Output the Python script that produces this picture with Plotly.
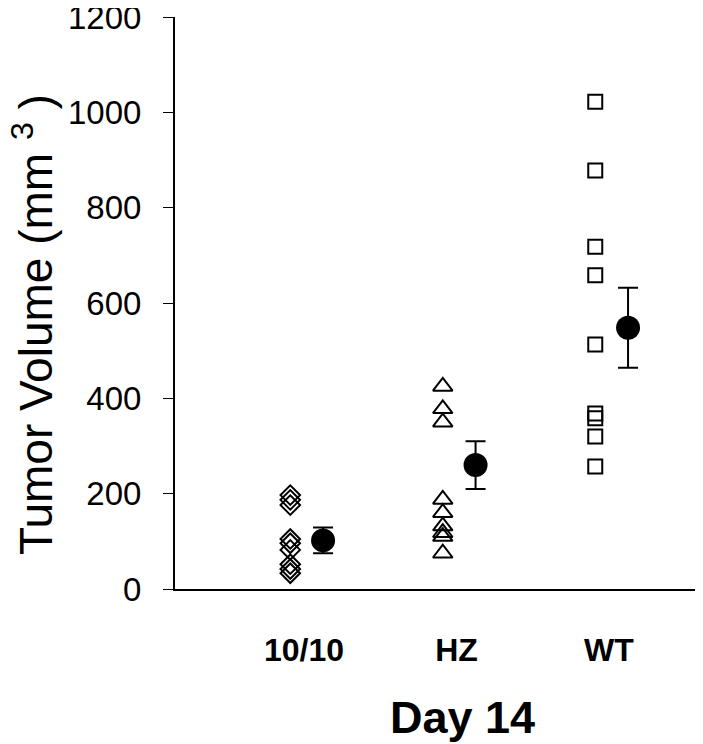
import plotly.graph_objects as go

# Day 14 tumor volumes (mm^3)
groups = ["10/10", "HZ", "WT"]
group_pos = [1, 2, 3]

vol_1010 = [197, 187, 176, 105, 96, 82, 52, 42, 33]
vol_hz = [425, 378, 350, 188, 160, 132, 118, 110, 75]
vol_wt = [1022, 878, 718, 658, 513, 368, 358, 320, 257]

mean_vol = [102, 260, 548]
sem_vol = [27, 50, 84]

y_ticks = [0, 200, 400, 600, 800, 1000, 1200]

FONT = "Arial, Liberation Sans, sans-serif"
pt_shift = -0.09     # individual animals sit left of the label
mean_shift = 0.125   # mean +/- SEM to the right

# the page body adds an 8px offset, so the margins are pulled in by 8px
PX_L, PX_R, PX_T, PX_B = 175, 711, 17, 589   # plot area in screen pixels


def paper_x(px):
    return (px - PX_L) / (PX_R - PX_L)


def paper_y(py):
    return (PX_B - py) / (PX_B - PX_T)


fig = go.Figure()

sets = [
    (vol_1010, "diamond-open", 15),
    (vol_hz, "triangle-up-open", 17),
    (vol_wt, "square-open", 14),
]
for (vals, sym, sz), pos, name in zip(sets, group_pos, groups):
    fig.add_trace(go.Scatter(
        x=[pos + pt_shift] * len(vals), y=vals, mode="markers", name=name,
        marker=dict(symbol=sym, size=sz, color="black", line=dict(width=2)),
    ))

fig.add_trace(go.Scatter(
    x=[p + mean_shift for p in group_pos], y=mean_vol, mode="markers", name="mean",
    marker=dict(symbol="circle", size=24, color="black"),
    error_y=dict(type="data", array=sem_vol, color="black", thickness=2, width=10),
))

fig.update_layout(
    width=703, height=744,
    margin=dict(l=PX_L - 8, r=0, t=PX_T - 8, b=744 - (PX_B - 8)),
    paper_bgcolor="white", plot_bgcolor="white",
    showlegend=False,
    font=dict(family=FONT, color="black"),
)

fig.update_xaxes(
    range=[0.154, 3.669], automargin=False,
    tickvals=group_pos, ticktext=groups,
    ticks="", showgrid=False, zeroline=False,
    showline=True, linecolor="black", linewidth=2,
    tickfont=dict(size=32, weight="bold", family=FONT),
    ticklabelstandoff=32,
)

fig.update_yaxes(
    range=[0, 1200], tickvals=y_ticks, automargin=False,
    ticks="outside", ticklen=10, tickwidth=1, tickcolor="black",
    showgrid=False, zeroline=False,
    showline=True, linecolor="black", linewidth=2,
    tickfont=dict(size=33, family=FONT),
    ticklabelstandoff=15, ticklabeloverflow="allow",
)

# axis titles as annotations so they sit where the reference puts them
fig.add_annotation(
    text="Day 14", xref="paper", yref="paper",
    x=paper_x(462), y=paper_y(717),
    xanchor="center", yanchor="middle", showarrow=False,
    font=dict(size=45, weight="bold", family=FONT),
)
fig.add_annotation(
    text="Tumor Volume (mm <sup>3</sup> )", xref="paper", yref="paper",
    x=paper_x(33), y=paper_y(325),
    xanchor="center", yanchor="middle", showarrow=False, textangle=-90,
    font=dict(size=46, family=FONT),
)

fig.write_html("out.html")
